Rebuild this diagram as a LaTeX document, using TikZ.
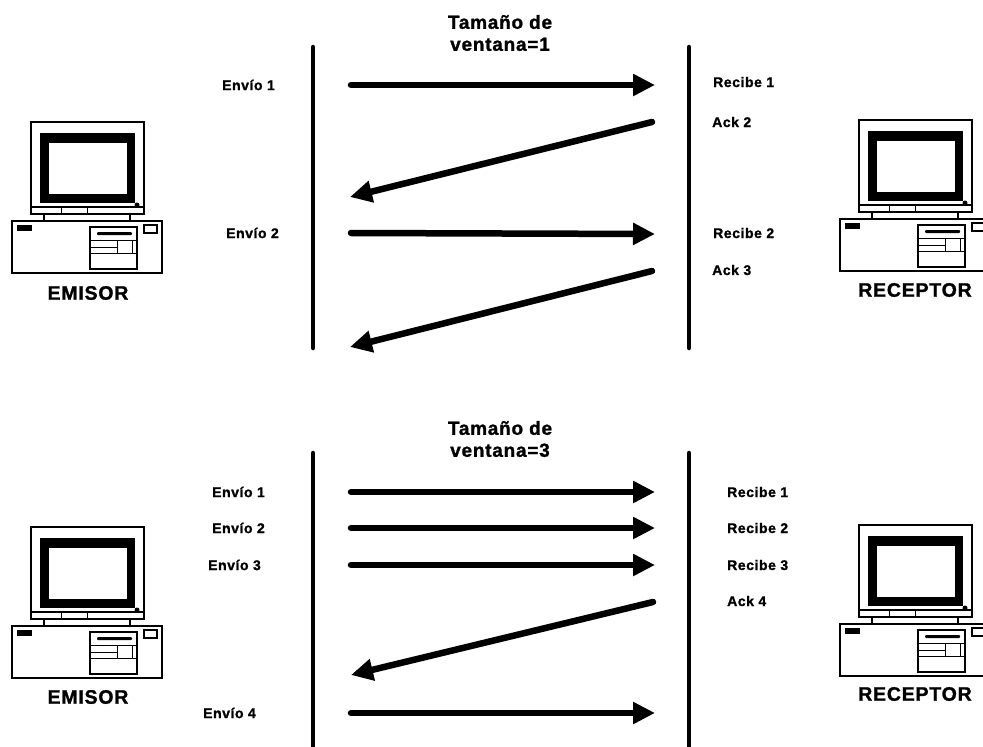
\documentclass[tikz,border=0pt]{standalone}
\usepackage{fontspec}
\setmainfont{Liberation Sans}[LetterSpace=4, BoldFeatures={FakeBold=1.2}]
\usepackage{tikz}
\usetikzlibrary{arrows.meta,positioning}

\tikzset{
  vida/.style={line width=4.5pt, line cap=round},
  flecha/.style={line width=6.5pt, line cap=round,
    -{Triangle[length=22pt,width=21pt]}},
  etiq/.style={font=\bfseries\fontsize{14}{16}\selectfont, inner sep=0pt, anchor=west},
  titulo/.style={font=\bfseries\fontsize{19}{22}\selectfont, align=center, inner sep=0pt},
  equipo/.style={font=\bfseries\fontsize{19.5}{22}\selectfont, inner sep=0pt},
  % desktop computer, origin at the monitor's top left corner
  pc/.pic={
    \draw[line width=1.3pt] (0,0) rectangle (113,85);
    \fill (9,11) rectangle (104,81);
    \fill[white] (18,21) rectangle (96,72);
    \fill (106,83) circle (2.5);
    \draw[line width=1.3pt] (0,85) rectangle (113,92);
    \draw (30,85) -- (30,92) (56,85) -- (56,92);
    \draw[line width=1.3pt] (13,92) rectangle (99,99);
    % case
    \draw[line width=1.3pt] (-19,99) rectangle (131,151);
    \draw[line width=2.5pt] (-19,151) -- (131,151);
    \fill (-14,103) rectangle (1,109);
    \draw[line width=1.3pt] (59,105) rectangle (106,147);
    \fill[rounded corners=1pt] (66,110) rectangle (101,113);
    \draw (59,118) -- (106,118) (59,125) -- (86,125) (59,131) -- (106,131);
    \draw (86,118) rectangle (101,131);
    \draw[line width=1.3pt] (113,103) rectangle (126,111);
  }
}

\begin{document}
\begin{tikzpicture}[x=1pt, y=-1pt]
  \useasboundingbox (0,0) rectangle (983,747);

  % ---- ventana = 1 ----
  \node[titulo] (tam1) at (500,33) {Tamaño de\\ventana=1};
  \coordinate (e1a) at (313,47);  \coordinate (e1b) at (313,348);
  \coordinate (r1a) at (689,47);  \coordinate (r1b) at (689,348);
  \draw[vida] (e1a) -- (e1b);
  \draw[vida] (r1a) -- (r1b);

  \pic at (31,122) {pc};
  \pic at (859,120) {pc};
  \node[equipo] (emi1) at (88,293) {EMISOR};
  \node[equipo] (rec1) at (915,290) {RECEPTOR};

  \node[etiq] (env11) at (222,85) {Envío 1};
  \node[etiq] (rcb11) at (713,82) {Recibe 1};
  \node[etiq] (ack12) at (712,122) {Ack 2};
  \node[etiq] (env12) at (226,233) {Envío 2};
  \node[etiq] (rcb12) at (713,233) {Recibe 2};
  \node[etiq] (ack13) at (712,270) {Ack 3};

  \coordinate (a1) at (351,85);  \coordinate (b1) at (655,85);
  \coordinate (a2) at (652,122); \coordinate (b2) at (350,197);
  \coordinate (a3) at (351,233); \coordinate (b3) at (655,234);
  \coordinate (a4) at (652,271); \coordinate (b4) at (350,347);
  \foreach \p in {1,2,3,4} {
    \draw[flecha] (a\p) -- (b\p);
  }

  % ---- ventana = 3 ----
  \node[titulo] (tam3) at (500,439) {Tamaño de\\ventana=3};
  \coordinate (e3a) at (313,453); \coordinate (e3b) at (313,750);
  \coordinate (r3a) at (689,453); \coordinate (r3b) at (689,750);
  \draw[vida] (e3a) -- (e3b);
  \draw[vida] (r3a) -- (r3b);

  \pic at (31,527) {pc};
  \pic at (859,525) {pc};
  \node[equipo] (emi3) at (88,697) {EMISOR};
  \node[equipo] (rec3) at (915,694) {RECEPTOR};

  \foreach \y/\n/\xe in {492/1/212, 528/2/212, 565/3/208} {
    \node[etiq] (env3\n) at (\xe,\y) {Envío \n};
    \node[etiq] (rcb3\n) at (727,\y) {Recibe \n};
    \coordinate (s\n) at (351,\y);
    \coordinate (t\n) at (655,\y);
    \draw[flecha] (s\n) -- (t\n);
  }
  \node[etiq] (ack34) at (727,601) {Ack 4};
  \coordinate (s5) at (653,602); \coordinate (t5) at (351,675);
  \draw[flecha] (s5) -- (t5);
  \node[etiq] (env34) at (203,713) {Envío 4};
  \coordinate (s6) at (351,713); \coordinate (t6) at (655,713);
  \draw[flecha] (s6) -- (t6);
\end{tikzpicture}
\end{document}
